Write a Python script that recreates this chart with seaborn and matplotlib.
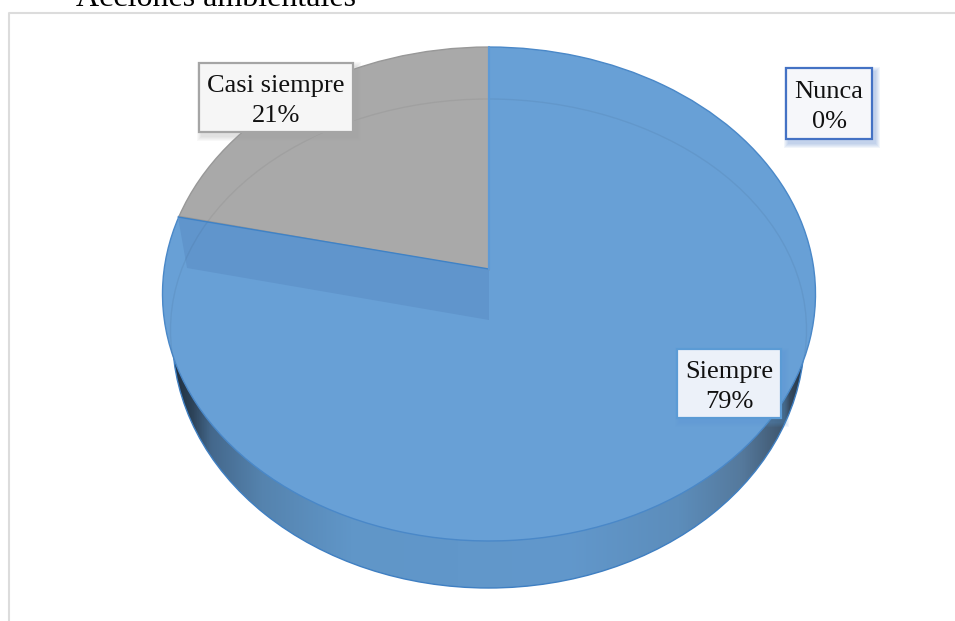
import numpy as np
import matplotlib
matplotlib.use("Agg")
import matplotlib.pyplot as plt
import seaborn as sns
from matplotlib.colors import LinearSegmentedColormap
from matplotlib.patches import Ellipse, Polygon, Rectangle
from matplotlib.transforms import Transform

# ---- data ----
categories = ["Siempre", "Casi siempre", "Nunca"]
values = [78.6, 21.4, 0.0]
title = "Acciones ambientales"

# ---- style ----
slice_colors = sns.color_palette(["#68A0D6", "#A9A9A9", "#4472C4"])
edge_colors = ["#4A88C8", "#989898", "#4472C4"]
box_edges = {"Siempre": "#5B9BD5", "Casi siempre": "#A5A5A5", "Nunca": "#4472C4"}
box_fills = {"Siempre": "#ECF1F9", "Casi siempre": "#F6F6F6", "Nunca": "#F6F7FA"}
box_rects = {"Siempre": (677, 349, 104, 69),
             "Casi siempre": (199, 63, 154, 69),
             "Nunca": (786, 68, 86, 71)}

sns.set_theme(style="white", rc={"figure.facecolor": "white", "axes.facecolor": "white"})
plt.rcParams["font.family"] = ["Liberation Serif", "DejaVu Serif"]


class TiltedDisk(Transform):
    """Perspective view of the unit disk, in pixel-like axes coordinates."""
    input_dims = 2
    output_dims = 2
    is_separable = False
    has_inverse = False

    def __init__(self, cx, cy, k, a, b):
        super().__init__()
        self.p = (cx, cy, k, a, b)

    def transform_non_affine(self, xy):
        xy = np.asarray(xy, float)
        cx, cy, k, a, b = self.p
        w = 1 + b * xy[:, 1]
        return np.column_stack([cx + k * xy[:, 0] / w, (cy + a * xy[:, 1]) / w])


fig = plt.figure(figsize=(9.55, 6.21), dpi=100)
ax = fig.add_axes([0, 0, 1, 1])

disk = TiltedDisk(489, 270, 324.95, -218.4, 0.0972)
wedges, _ = ax.pie(values, colors=slice_colors, startangle=90, counterclock=False,
                   wedgeprops=dict(linewidth=1.0, zorder=2))
for w, ec, v in zip(wedges, edge_colors, values):
    w.set_transform(disk + ax.transData)
    w.set_edgecolor(ec)
    if v == 0:
        w.set_visible(False)

# side wall
side_stops = [(0.0, "#1F2E3E"), (0.03, "#2C4258"), (0.06, "#44688C"), (0.14, "#5583AE"),
              (0.28, "#6096C8"), (0.62, "#6298CC"), (0.80, "#5C8DBB"),
              (0.90, "#55799C"), (0.965, "#3F566E"), (1.0, "#1F2E3E")]
side_cmap = LinearSegmentedColormap.from_list("side", side_stops)
side_shape = Ellipse((488.5, 336), 632, 504, transform=ax.transData, facecolor="none",
                     edgecolor="#3F7FC2", linewidth=1.0, zorder=1)
ax.add_patch(side_shape)
img = ax.imshow(np.linspace(0, 1, 256)[None, :], cmap=side_cmap, aspect="auto",
                extent=(172, 806, 600, 300), zorder=0.5)
img.set_clip_path(side_shape)

# far wall seen through the translucent surface
ax.add_patch(Polygon([(178, 217), (489, 269), (489, 320), (187, 268)], closed=True,
                     facecolor="#6095CC", edgecolor="none", zorder=2.2))
ax.plot([178, 489], [217, 269], color="#3F82C6", lw=1.0, zorder=2.4)
ax.plot([489, 489], [47, 269], color="#5E9AD6", lw=1.6, zorder=2.4)

# bevel ring on the surface
top_clip = Ellipse((488.5, 294), 653, 494, transform=ax.transData, facecolor="none", edgecolor="none")
ax.add_patch(top_clip)
ring = Ellipse((488.5, 330), 636, 462, facecolor="none", edgecolor="black", alpha=0.05,
               linewidth=1.0, zorder=2.3)
ax.add_patch(ring)
ring.set_clip_path(top_clip)

# frame
ax.plot([9, 9, 955], [621, 13, 13], color="#DCDCDC", lw=1.5, zorder=0.2)

# title, cut by the page edge as in the source
ax.text(76, 6.5, title, fontsize=23, color="black", ha="left", va="baseline", clip_on=False)

# data labels
for name, v in zip(categories, values):
    x, y, bw, bh = box_rects[name]
    for i in range(1, 6):
        ax.add_patch(Rectangle((x + 3 - i, y + 4 - i), bw + 2 * i, bh + 2 * i,
                               facecolor=box_edges[name], edgecolor="none", alpha=0.07, zorder=3))
    ax.add_patch(Rectangle((x, y), bw, bh, facecolor=box_fills[name], edgecolor=box_edges[name],
                           linewidth=1.6, zorder=4))
    ax.text(x + bw / 2, y + bh / 2 + 3.5, f"{name}\n{v:.0f}%", ha="center", va="center",
            fontsize=19, color="#111111", linespacing=1.48, zorder=5)

ax.set_aspect("auto")
ax.set_xlim(0, 955)
ax.set_ylim(621, 0)
ax.axis("off")
fig.savefig("out.png", dpi=100)
